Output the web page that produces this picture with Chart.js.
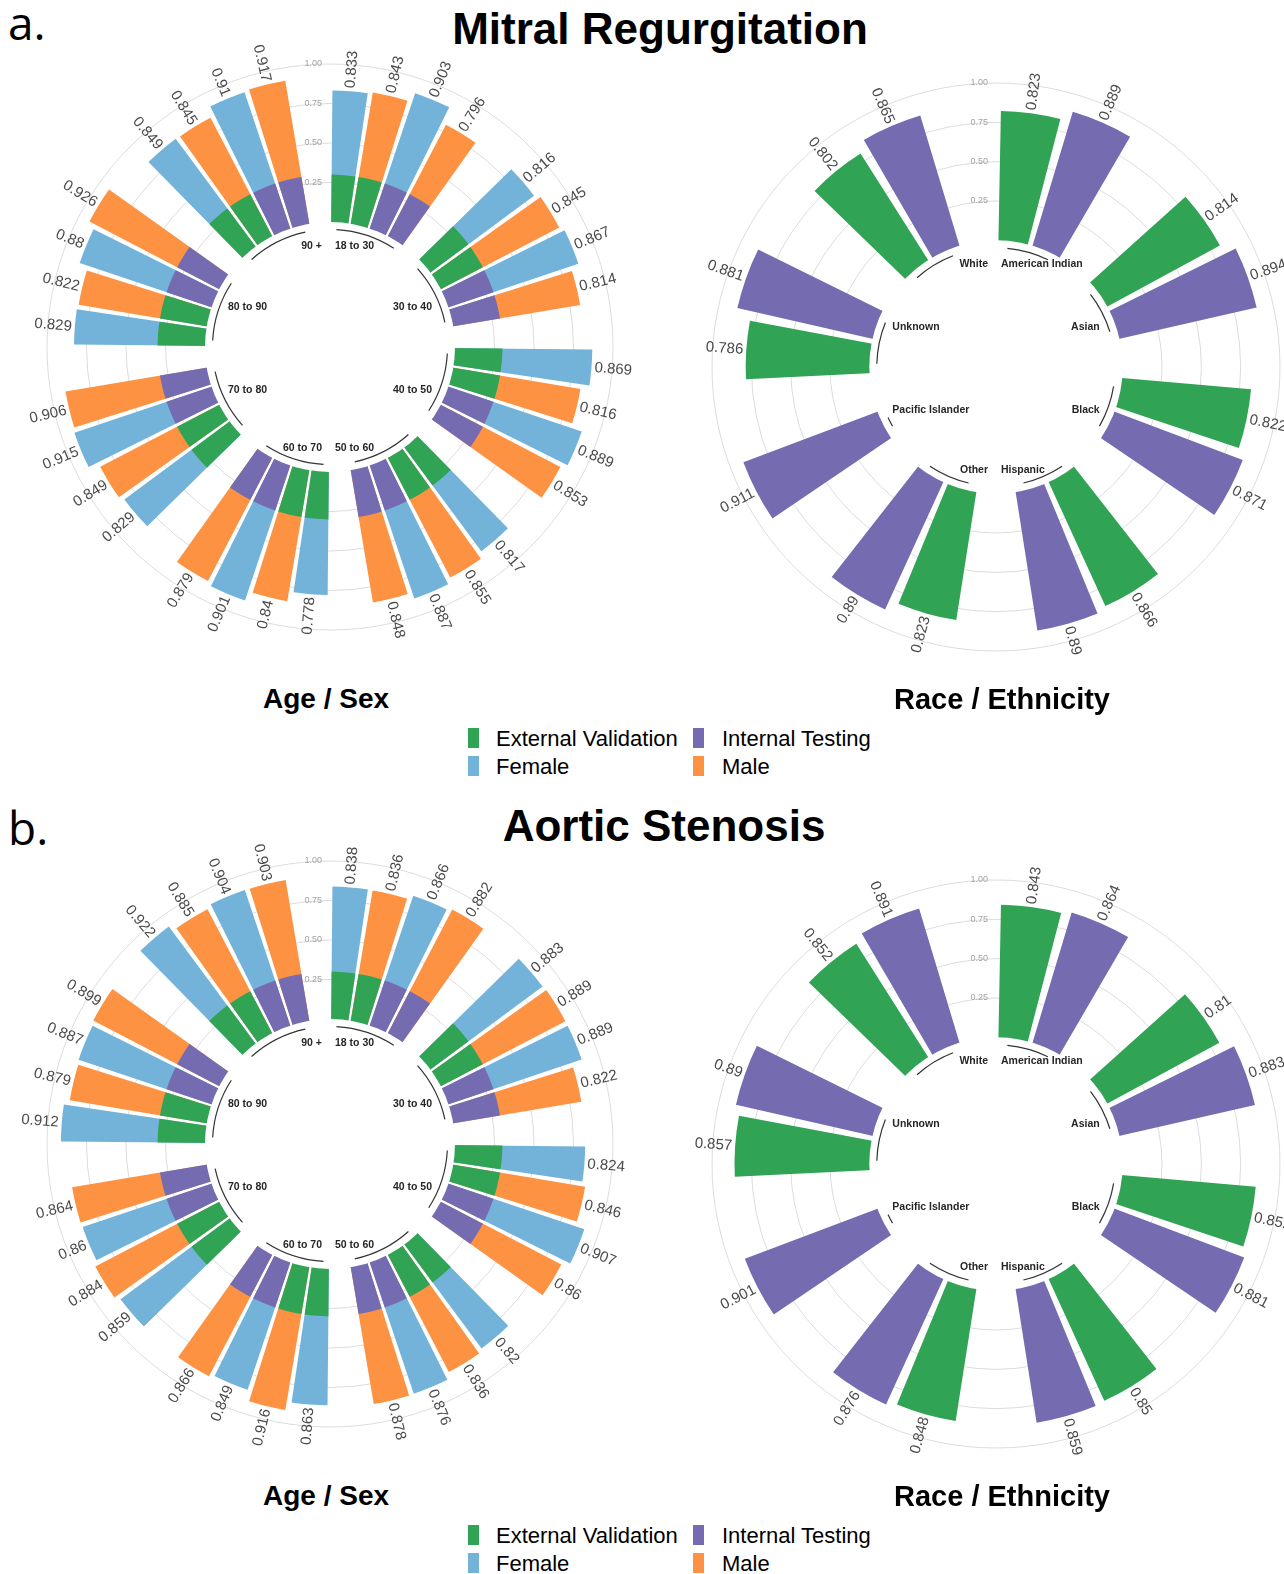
<!DOCTYPE html>
<html><head><meta charset="utf-8">
<script src="https://cdn.jsdelivr.net/npm/chart.js@4.4.1/dist/chart.umd.min.js"></script>
<style>
html,body{margin:0;padding:0;background:#fff;width:1284px;height:1574px;overflow:hidden;font-family:"Liberation Sans",Arial,sans-serif;color:#000;}
.abs{position:absolute;white-space:nowrap;line-height:1;}
.ctr{transform:translateX(-50%);}
.sq{position:absolute;width:11px;height:20px;}
canvas{position:absolute;}
</style></head><body>

<div class="abs" style="left:8px;top:-1px;font-family:'Open Sans';font-size:46px;">a.</div>
<div class="abs ctr" style="left:660px;top:7px;font-size:44px;font-weight:bold;">Mitral Regurgitation</div>
<canvas id="mrAge" width="660" height="660" style="left:0px;top:17px"></canvas>
<canvas id="mrRace" width="640" height="640" style="left:676px;top:47px"></canvas>
<div class="abs ctr" style="left:326px;top:685px;font-size:28px;font-weight:bold;">Age / Sex</div>
<div class="abs ctr" style="left:1002px;top:685px;font-size:29px;font-weight:bold;">Race / Ethnicity</div>
<div id="legA"></div>

<div class="abs" style="left:8px;top:804px;font-family:'Open Sans';font-size:46px;">b.</div>
<div class="abs ctr" style="left:664px;top:804px;font-size:44px;font-weight:bold;">Aortic Stenosis</div>
<canvas id="asAge" width="660" height="660" style="left:0px;top:814px"></canvas>
<canvas id="asRace" width="640" height="640" style="left:676px;top:844px"></canvas>
<div class="abs ctr" style="left:326px;top:1482px;font-size:28px;font-weight:bold;">Age / Sex</div>
<div class="abs ctr" style="left:1002px;top:1482px;font-size:29px;font-weight:bold;">Race / Ethnicity</div>
<div id="legB"></div>

<script>
// ---------------- DATA ----------------
const ageGroups = ["18 to 30","30 to 40","40 to 50","50 to 60","60 to 70","70 to 80","80 to 90","90 +"];
const raceGroups = ["American Indian","Asian","Black","Hispanic","Other","Pacific Islander","Unknown","White"];
const legendItems = ["External Validation","Internal Testing","Female","Male"];
const radialTickValues = [0.25, 0.5, 0.75, 1.0];
const radialTickLabels = ["0.25","0.50","0.75","1.00"];

// Mitral Regurgitation - Age / Sex (per age group)
const mrAgeExtFemale = [0.833,0.816,0.869,0.817,0.778,0.829,0.829,0.849];
const mrAgeExtMale   = [0.843,0.845,0.816,0.855,0.84, 0.849,0.822,0.845];
const mrAgeIntFemale = [0.903,0.867,0.889,0.887,0.901,0.915,0.88, 0.91];
const mrAgeIntMale   = [0.796,0.814,0.853,0.848,0.879,0.906,0.926,0.917];
// Mitral Regurgitation - Race / Ethnicity
const mrRaceExternal = [0.823,0.814,0.822,0.866,0.823,null,0.786,0.802];
const mrRaceInternal = [0.889,0.894,0.871,0.89, 0.89, 0.911,0.881,0.865];

// Aortic Stenosis - Age / Sex
const asAgeExtFemale = [0.838,0.883,0.824,0.82, 0.863,0.859,0.912,0.922];
const asAgeExtMale   = [0.836,0.889,0.846,0.836,0.916,0.884,0.879,0.885];
const asAgeIntFemale = [0.866,0.889,0.907,0.876,0.849,0.86, 0.887,0.904];
const asAgeIntMale   = [0.882,0.822,0.86, 0.878,0.866,0.864,0.899,0.903];
// Aortic Stenosis - Race / Ethnicity
const asRaceExternal = [0.843,0.81, 0.852,0.85, 0.848,null,0.857,0.852];
const asRaceInternal = [0.864,0.883,0.881,0.859,0.876,0.901,0.89, 0.891];

// ---------------- STYLE ----------------
const PALETTE = { ext:'#31a354', int:'#756bb1', Female:'#74b3d9', Male:'#fd9243' };
const COHORT_BAND = 0.3;

function agePositions(extF, extM, intF, intM) {
  const out = [];
  ageGroups.forEach((g, i) => {
    [[extF,'ext','Female'],[extM,'ext','Male'],[intF,'int','Female'],[intM,'int','Male']].forEach(([arr,c,s]) => {
      if (arr[i] != null) out.push({group:i, value:arr[i], cohort:c, sex:s});
    });
    out.push({group:i, gap:true});
  });
  return out;
}
function racePositions(ext, int) {
  const out = [];
  raceGroups.forEach((g, i) => {
    if (ext[i] != null) out.push({group:i, value:ext[i], cohort:'ext'});
    if (int[i] != null) out.push({group:i, value:int[i], cohort:'int'});
    out.push({group:i, gap:true});
  });
  return out;
}
function buildElements(positions, barFrac) {
  const unit = 360 / positions.length;
  const els = [];
  positions.forEach(p => {
    if (p.gap) { els.push({kind:'gap', angle:unit}); return; }
    const pad = unit * (1 - barFrac) / 2;
    els.push({kind:'pad', angle:pad});
    els.push(Object.assign({kind:'bar', angle:unit * barFrac}, p));
    els.push({kind:'pad', angle:pad});
  });
  return {els, unit};
}

function makeChart(id, positions, groups, geom) {
  const {els, unit} = buildElements(positions, geom.barFrac);
  const min = -geom.r0 / geom.ppu;
  const max = (geom.size / 2 - geom.r0) / geom.ppu;
  const angleFn = c => els[c.dataIndex].angle;
  const datasets = [
    { label:'hole', data:[0], backgroundColor:'#ffffff', borderWidth:0, angle:360 },
    { label:'cohort',
      data: els.map(e => e.kind === 'bar' ? (geom.stacked ? COHORT_BAND : e.value) : null),
      backgroundColor: c => els[c.dataIndex].kind === 'bar' ? PALETTE[els[c.dataIndex].cohort] : 'rgba(0,0,0,0)',
      borderWidth:0, angle:angleFn }
  ];
  if (geom.stacked) {
    datasets.push({ label:'subgroup',
      data: els.map(e => e.kind === 'bar' ? e.value : null),
      backgroundColor: c => els[c.dataIndex].kind === 'bar' ? PALETTE[els[c.dataIndex].sex] : 'rgba(0,0,0,0)',
      borderWidth:0, angle:angleFn });
  }
  const valueIdx = datasets.length - 1;
  const plugin = {
    id:'radialText_' + id,
    afterDatasetsDraw(chart) {
      const ctx = chart.ctx, s = chart.scales.r;
      const meta = chart.getDatasetMeta(valueIdx);
      const cx = s.xCenter, cy = s.yCenter;
      const rZero = s.getDistanceFromCenterForValue(0);
      ctx.save();
      // value labels
      ctx.font = '15px "Liberation Sans", Arial, sans-serif';
      ctx.fillStyle = '#4a4a4a';
      els.forEach((e, i) => {
        if (e.kind !== 'bar') return;
        const a = meta.data[i];
        const mid = (a.startAngle + a.endAngle) / 2;
        const r = a.outerRadius + 3;
        const right = Math.cos(mid) >= 0;
        ctx.save();
        ctx.translate(a.x + Math.cos(mid) * r, a.y + Math.sin(mid) * r);
        ctx.rotate(right ? mid : mid + Math.PI);
        ctx.textAlign = right ? 'left' : 'right';
        ctx.textBaseline = 'middle';
        ctx.fillText(String(e.value), 0, 0);
        ctx.restore();
      });
      // group arcs and names
      const unitRad = unit * Math.PI / 180;
      const rArc = rZero - 7.5;
      groups.forEach((g, gi) => {
        const idx = [];
        els.forEach((e, i) => { if (e.kind === 'bar' && e.group === gi) idx.push(i); });
        if (!idx.length) return;
        const f = meta.data[idx[0]], l = meta.data[idx[idx.length - 1]];
        const a1 = (f.startAngle + f.endAngle) / 2 - 0.15 * unitRad;
        const a2 = (l.startAngle + l.endAngle) / 2 + 0.15 * unitRad;
        ctx.beginPath();
        ctx.arc(cx, cy, rArc, a1, a2);
        ctx.strokeStyle = '#333333';
        ctx.lineWidth = 1.2;
        ctx.stroke();
        // label placement by zone (clockwise degrees from top)
        const phi = (a1 + a2) / 2;
        let deg = (phi * 180 / Math.PI + 90) % 360; if (deg < 0) deg += 360;
        const rightSide = deg < 180;
        ctx.font = 'bold 10.5px "Liberation Sans", Arial, sans-serif';
        ctx.fillStyle = '#262626';
        ctx.textBaseline = 'middle';
        let x, y;
        if (deg < 45 || deg > 315 || (deg > 135 && deg < 225)) {
          const top = (deg < 45 || deg > 315);
          y = cy + (top ? -1 : 1) * (rZero - 24);
          x = cx + (rightSide ? 5 : -8);
          ctx.textAlign = rightSide ? 'left' : 'right';
        } else {
          const upper = (deg < 90 || deg > 270);
          y = cy + (upper ? -40 : 43);
          x = cx + (rightSide ? 1 : -1) * (rZero - 23);
          ctx.textAlign = rightSide ? 'right' : 'left';
        }
        ctx.fillText(g, x, y);
      });
      // radial tick labels
      ctx.font = '9px "Liberation Sans", Arial, sans-serif';
      ctx.fillStyle = '#a3a3a3';
      ctx.textAlign = 'right';
      ctx.textBaseline = 'middle';
      radialTickValues.forEach((v, k) => {
        ctx.fillText(radialTickLabels[k], cx - 8, cy - s.getDistanceFromCenterForValue(v));
      });
      ctx.restore();
    }
  };
  return new Chart(document.getElementById(id), {
    type:'polarArea',
    data:{ labels: els.map(e => e.kind === 'bar' ? groups[e.group] : ''), datasets },
    options:{
      responsive:false, animation:false, devicePixelRatio:1, events:[],
      layout:{ padding:0 },
      plugins:{ legend:{display:false}, tooltip:{enabled:false} },
      scales:{ r:{
        min, max, startAngle:0,
        ticks:{ display:false, stepSize:0.25 },
        grid:{ circular:true, lineWidth:1,
          color: c => radialTickValues.some(t => Math.abs(c.tick.value - t) < 1e-6) ? '#dcdcdc' : 'rgba(0,0,0,0)' },
        angleLines:{ display:false },
        pointLabels:{ display:false }
      }}
    },
    plugins:[plugin]
  });
}

const ageGeom  = { r0:125,   ppu:158,   size:660, barFrac:0.88, stacked:true };
const raceGeom = { r0:126.7, ppu:157.3, size:640, barFrac:0.86, stacked:false };

makeChart('mrAge',  agePositions(mrAgeExtFemale, mrAgeExtMale, mrAgeIntFemale, mrAgeIntMale), ageGroups, ageGeom);
makeChart('mrRace', racePositions(mrRaceExternal, mrRaceInternal), raceGroups, raceGeom);
makeChart('asAge',  agePositions(asAgeExtFemale, asAgeExtMale, asAgeIntFemale, asAgeIntMale), ageGroups, ageGeom);
makeChart('asRace', racePositions(asRaceExternal, asRaceInternal), raceGroups, raceGeom);

// ---------------- LEGENDS ----------------
function legend(containerId, dy) {
  const colors = [PALETTE.ext, PALETTE.int, PALETTE.Female, PALETTE.Male];
  const cols = [{sq:468, tx:496}, {sq:693, tx:722}];
  const rows = [{sq:728, tx:728}, {sq:756, tx:756}];
  let html = '';
  legendItems.forEach((name, i) => {
    const c = cols[i % 2], r = rows[Math.floor(i / 2)];
    html += '<div class="sq" style="left:' + c.sq + 'px;top:' + (r.sq + dy) + 'px;background:' + colors[i] + '"></div>';
    html += '<div class="abs" style="left:' + c.tx + 'px;top:' + (r.tx + dy) + 'px;font-size:22px;">' + name + '</div>';
  });
  document.getElementById(containerId).innerHTML = html;
}
legend('legA', 0);
legend('legB', 797);
</script>
</body></html>
